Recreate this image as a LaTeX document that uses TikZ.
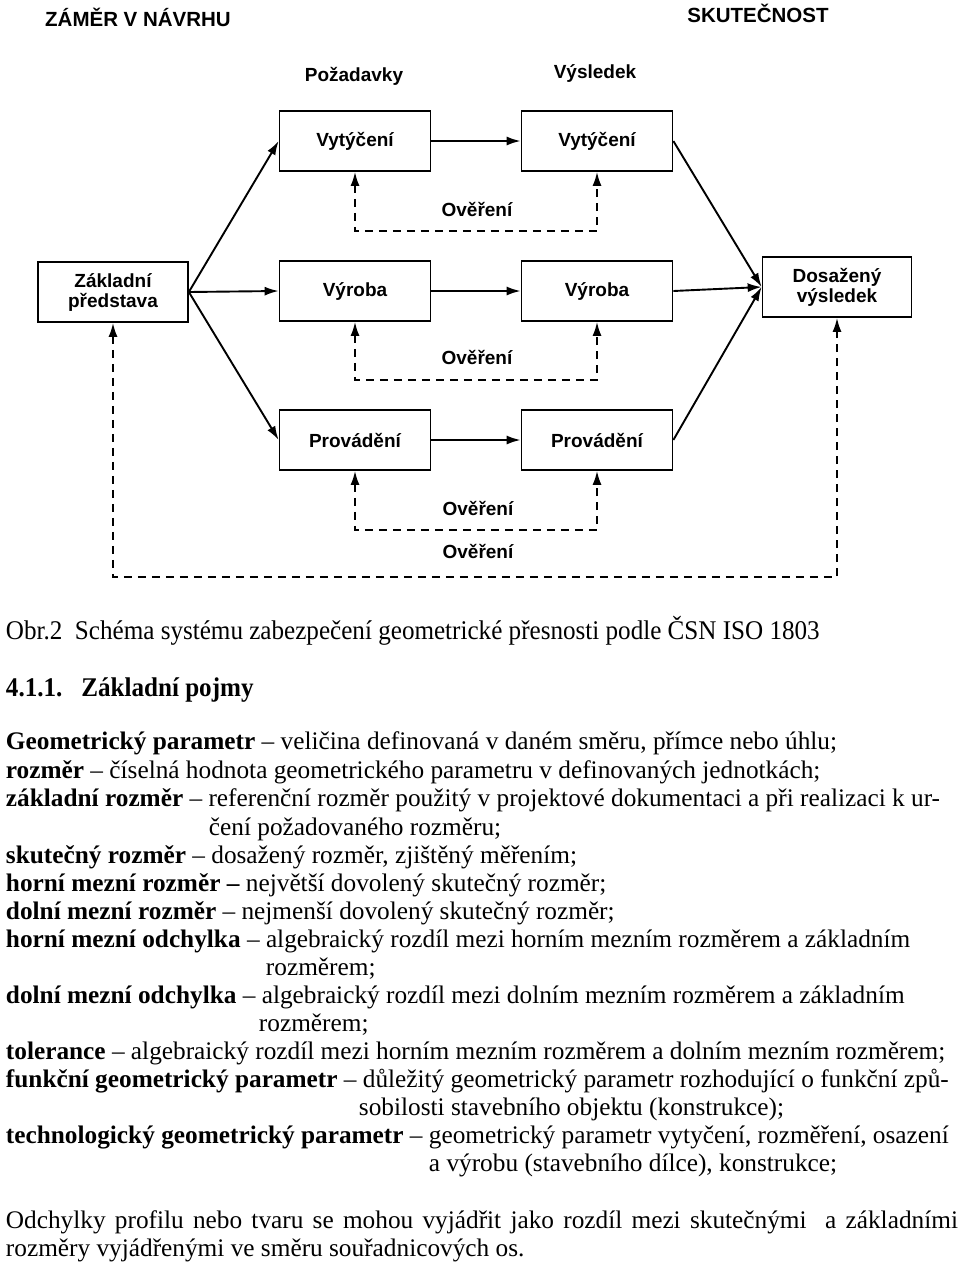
\documentclass[tikz,border=0pt]{standalone}
\usepackage{fontspec}
\setmainfont{Liberation Serif}
\setsansfont{Liberation Sans}
\usetikzlibrary{positioning}
\usetikzlibrary{arrows.meta}
\usetikzlibrary{math}

\newcommand{\condensed}[2]{\scalebox{#1}[1]{#2}}

\begin{document}
\begin{tikzpicture}[x=1pt,y=-1pt,line width=1.9pt,
  box/.style={draw,line width=1.7pt,minimum width=151pt,minimum height=60pt,
    inner sep=0pt,align=center,font=\sffamily\bfseries\fontsize{19}{22}\selectfont},
  head/.style={font=\sffamily\bfseries\fontsize{19}{22}\selectfont},
  flow/.style={-{Latex[length=14pt,width=9pt]}},
  check/.style={dash pattern=on 8pt off 6pt,
    {Latex[length=14pt,width=9pt]}-{Latex[length=14pt,width=9pt]}},
  txt/.style={anchor=base west,inner sep=0pt,font=\fontsize{25.3}{28}\selectfont}]

  \useasboundingbox (0,0) rectangle (960,1264);

  \tikzmath{
    \colL  = 355; % x of the design column
    \colR  = 597; % x of the reality column
    \rowA  = 141; % row of setting out
    \rowB  = 291; % row of production
    \rowC  = 440; % row of execution
    \chkA  = 231; % dashed checks
    \chkB  = 380;
    \chkC  = 530;
    \chkD  = 577; % outer check
  }

  % column headings
  \node[head,font=\sffamily\bfseries\fontsize{20.5}{22}\selectfont] (design)  at (138,17)  {ZÁMĚR V NÁVRHU};
  \node[head,font=\sffamily\bfseries\fontsize{20.5}{22}\selectfont] (reality) at (758,13)  {SKUTEČNOST};
  \node[head] (demand)  at (354,76)  {Požadavky};
  \node[head] (result)  at (595,74)  {Výsledek};

  % boxes
  \node[box,minimum width=150pt] (basic) at (113,292) {Základní\\[-2pt]představa};
  \node[box] (setL) at (\colL,\rowA) {Vytýčení};
  \node[box] (setR) at (\colR,\rowA) {Vytýčení};
  \node[box] (prodL) at (\colL,\rowB) {Výroba};
  \node[box] (prodR) at (\colR,\rowB) {Výroba};
  \node[box] (execL) at (\colL,\rowC) {Provádění};
  \node[box] (execR) at (\colR,\rowC) {Provádění};
  \node[box,minimum width=149pt] (final) at (837,287) {Dosažený\\[-2pt]výsledek};

  % solid flow
  \draw[flow] (basic.east) -- (setL.west);
  \draw[flow] (basic.east) -- (prodL.west);
  \draw[flow] (basic.east) -- (execL.west);
  \draw[flow] (setL) -- (setR);
  \draw[flow] (prodL) -- (prodR);
  \draw[flow] (execL) -- (execR);
  \draw[flow] (setR.east) -- (final.west);
  \draw[flow] (prodR.east) -- (final.west);
  \draw[flow] (execR.east) -- (final.west);

  % checks (dashed)
  \coordinate (cA) at (0,\chkA);
  \coordinate (cB) at (0,\chkB);
  \coordinate (cC) at (0,\chkC);
  \coordinate (cD) at (0,\chkD);
  \draw[check] (setL.south) -- (setL.south |- cA) -- (setR.south |- cA) -- (setR.south);
  \draw[check] (prodL.south) -- (prodL.south |- cB) -- (prodR.south |- cB) -- (prodR.south);
  \draw[check] (execL.south) -- (execL.south |- cC) -- (execR.south |- cC) -- (execR.south);
  \draw[check] (basic.south) -- (basic.south |- cD) -- (final.south |- cD) -- (final.south);
  \node[head] (ovA) at (477,209) {Ověření};
  \node[head] (ovB) at (477,357) {Ověření};
  \node[head] (ovC) at (478,508) {Ověření};
  \node[head] (ovD) at (478,551) {Ověření};

  % caption and text below
  \node[txt,font=\fontsize{27}{28}\selectfont] (cap) at (5,639) {\condensed{0.93}{Obr.2\ \ Schéma systému zabezpečení geometrické přesnosti podle ČSN ISO 1803}};
  \node[txt,font=\fontsize{27}{28}\selectfont] (sec) at (5,696) {\condensed{0.93}{\textbf{4.1.1.\ \ \ Základní pojmy}}};

  \node[txt] (t1)  at (5,749)   {\textbf{Geometrický parametr} – veličina definovaná v daném směru, přímce nebo úhlu;};
  \node[txt] (t2)  at (5,778)   {\textbf{rozměr} – číselná hodnota geometrického parametru v definovaných jednotkách;};
  \node[txt] (t3)  at (5,806)   {\textbf{základní rozměr} – referenční rozměr použitý v projektové dokumentaci a při realizaci k ur-};
  \node[txt] (t4)  at (208,835) {čení požadovaného rozměru;};
  \node[txt] (t5)  at (5,863)   {\textbf{skutečný rozměr} – dosažený rozměr, zjištěný měřením;};
  \node[txt] (t6)  at (5,891)   {\textbf{horní mezní rozměr –} největší dovolený skutečný rozměr;};
  \node[txt] (t7)  at (5,919)   {\textbf{dolní mezní rozměr} – nejmenší dovolený skutečný rozměr;};
  \node[txt] (t8)  at (5,947)   {\textbf{horní mezní odchylka} – algebraický rozdíl mezi horním mezním rozměrem a základním};
  \node[txt] (t9)  at (265,975) {rozměrem;};
  \node[txt] (t10) at (5,1003)  {\textbf{dolní mezní odchylka} – algebraický rozdíl mezi dolním mezním rozměrem a základním};
  \node[txt] (t11) at (258,1031) {rozměrem;};
  \node[txt] (t12) at (5,1059)  {\textbf{tolerance} – algebraický rozdíl mezi horním mezním rozměrem a dolním mezním rozměrem;};
  \node[txt] (t13) at (5,1087)  {\textbf{funkční geometrický parametr} – důležitý geometrický parametr rozhodující o funkční způ-};
  \node[txt] (t14) at (358,1115) {sobilosti stavebního objektu (konstrukce);};
  \node[txt] (t15) at (5,1143)  {\textbf{technologický geometrický parametr} – geometrický parametr vytyčení, rozměření, osazení};
  \node[txt] (t16) at (428,1171) {a výrobu (stavebního dílce), konstrukce;};
  \node[txt] (t17) at (5,1228)  {\makebox[952pt][s]{Odchylky profilu nebo tvaru se mohou vyjádřit jako rozdíl mezi skutečnými \ a základními}};
  \node[txt] (t18) at (5,1256)  {rozměry vyjádřenými ve směru souřadnicových os.};

\end{tikzpicture}
\end{document}
